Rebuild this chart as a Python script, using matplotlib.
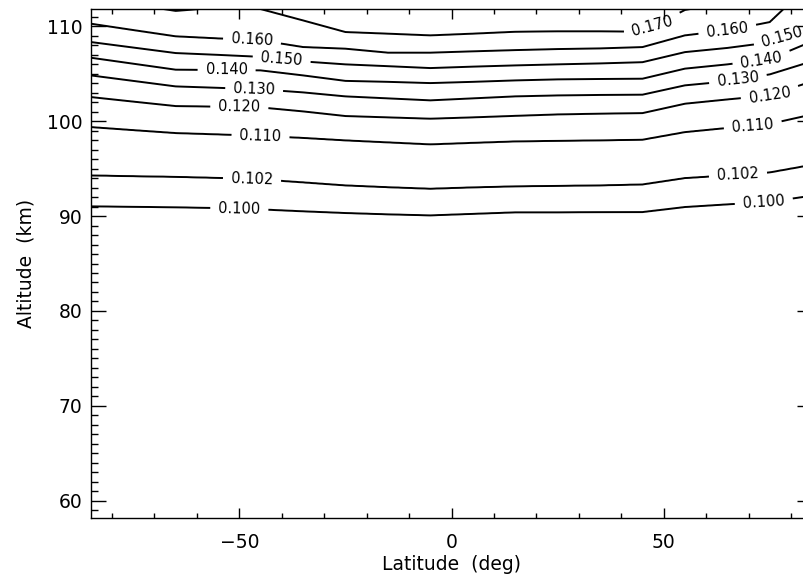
import numpy as np
import matplotlib.pyplot as plt
from matplotlib.ticker import MultipleLocator

# latitude columns of the field (deg)
lat = np.array([-85, -75, -65, -55, -45, -35, -25, -15, -5,
                5, 15, 25, 35, 45, 55, 65, 75, 85])
levels = [0.100, 0.102, 0.110, 0.120, 0.130, 0.140, 0.150, 0.160, 0.170]

# altitude (km) of each contour level at every latitude column
alt_100 = [91.02, 90.97, 90.92, 90.84, 90.70, 90.50, 90.32, 90.18, 90.07,
           90.23, 90.39, 90.39, 90.41, 90.42, 90.95, 91.23, 91.50, 92.15]
alt_102 = [94.28, 94.20, 94.13, 94.02, 93.86, 93.55, 93.23, 93.04, 92.88,
           93.02, 93.13, 93.18, 93.23, 93.33, 94.00, 94.28, 94.60, 95.40]
alt_110 = [99.37, 99.05, 98.74, 98.60, 98.44, 98.23, 97.97, 97.76, 97.55,
           97.71, 97.86, 97.92, 97.97, 98.04, 98.84, 99.28, 99.70, 100.70]
alt_120 = [102.53, 102.05, 101.58, 101.52, 101.44, 101.02, 100.53, 100.39, 100.25,
           100.39, 100.55, 100.70, 100.78, 100.84, 101.83, 102.28, 102.70, 104.20]
alt_130 = [104.81, 104.23, 103.65, 103.50, 103.34, 103.02, 102.60, 102.39, 102.18,
           102.39, 102.60, 102.70, 102.75, 102.78, 103.76, 104.18, 104.92, 106.30]
alt_140 = [106.67, 106.04, 105.41, 105.38, 105.34, 104.81, 104.23, 104.13, 104.00,
           104.13, 104.28, 104.39, 104.43, 104.46, 105.52, 105.97, 106.53, 108.40]
alt_150 = [108.32, 107.74, 107.16, 106.97, 106.76, 106.28, 105.97, 105.78, 105.58,
           105.73, 105.86, 105.97, 106.07, 106.20, 107.26, 107.70, 108.28, 110.30]
alt_160 = [110.25, 109.58, 108.92, 108.70, 108.50, 107.79, 107.62, 107.20, 107.20,
           107.34, 107.47, 107.58, 107.65, 107.79, 109.02, 109.55, 110.42, 114.70]
alt_170 = [113.00, 112.30, 111.60, 111.95, 111.80, 110.60, 109.37, 109.20, 109.02,
           109.20, 109.40, 109.45, 109.45, 109.40, 111.70, 112.50, 113.50, 116.00]

# end values well outside the window so the grid is defined everywhere
alt_floor, val_floor = 40.0, 0.080
alt_ceil, val_ceil = 130.0, 0.250

heights = np.array([alt_100, alt_102, alt_110, alt_120, alt_130,
                    alt_140, alt_150, alt_160, alt_170])

# fine grid so the contour segments between columns come out straight
lat_f = np.arange(-85.0, 85.01, 0.5)
alt_f = np.arange(50.0, 125.0, 0.05)
h_f = np.array([np.interp(lat_f, lat, row) for row in heights])
z = np.empty((alt_f.size, lat_f.size))
for j in range(lat_f.size):
    xp = np.concatenate([[alt_floor], h_f[:, j], [alt_ceil]])
    fp = np.concatenate([[val_floor], levels, [val_ceil]])
    z[:, j] = np.interp(alt_f, xp, fp)

label_pos = [(-50, 90.9), (-47, 94.0), (-45, 98.6), (-50, 101.5), (-46.5, 103.5),
             (-53, 105.3), (-40, 106.7), (-47, 108.7),
             (73.6, 91.3), (67.5, 94.4), (71, 99.4), (75, 102.7), (67.5, 104.3),
             (73, 106.6), (78, 108.7), (65, 109.5), (47, 110.5)]

fig = plt.figure(figsize=(8.04, 5.77), dpi=100)
ax = fig.add_axes([90.8 / 804, 59 / 577, (812.25 - 90.8) / 804, 509 / 577])

cs = ax.contour(lat_f, alt_f, z, levels=levels, colors='k', linewidths=1.4)
ax.clabel(cs, fmt='%.3f', fontsize=10.5, inline=True, inline_spacing=8,
          manual=label_pos)

ax.set_xlim(-85, 85)
ax.set_ylim(58.2, 111.8)
ax.xaxis.set_major_locator(MultipleLocator(50))
ax.xaxis.set_minor_locator(MultipleLocator(10))
ax.yaxis.set_major_locator(MultipleLocator(10))
ax.yaxis.set_minor_locator(MultipleLocator(1))
ax.tick_params(which='both', direction='in', top=True, right=True,
               labelsize=13.5, width=1.0)
ax.tick_params(axis='x', which='major', length=7.2, pad=11)
ax.tick_params(axis='x', which='minor', length=3.6)
ax.tick_params(axis='y', which='major', length=10.8, pad=6)
ax.tick_params(axis='y', which='minor', length=5)
for s in ax.spines.values():
    s.set_linewidth(1.0)

ax.set_xlabel('Latitude  (deg)', fontsize=13.5, labelpad=2)
ax.set_ylabel('Altitude  (km)', fontsize=13.5, labelpad=8)

fig.savefig('out.png', dpi=100)
